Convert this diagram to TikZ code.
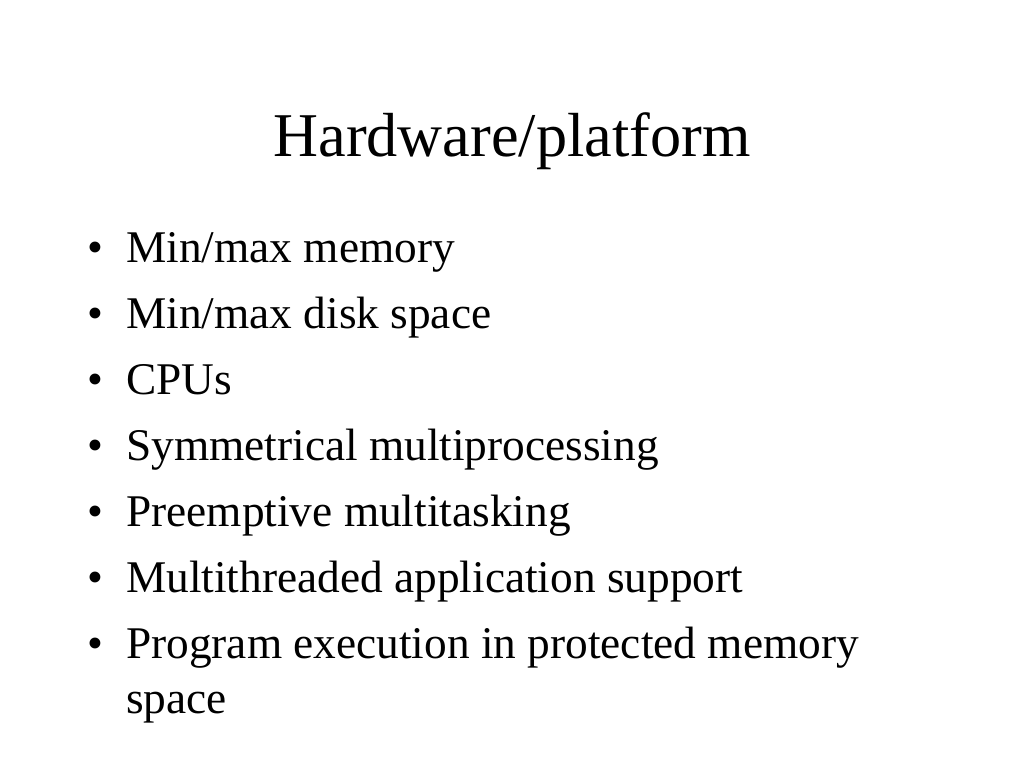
\documentclass[tikz,border=0pt]{standalone}
\usepackage{fontspec}
\setmainfont{Liberation Serif}
\begin{document}
\begin{tikzpicture}[x=1bp,y=-1bp,
  titletext/.style={anchor=base,inner sep=0pt,font=\fontsize{62.5}{70}\selectfont},
  bullettext/.style={anchor=base west,inner sep=0pt,font=\fontsize{45.5}{55}\selectfont},
  bulletmark/.style={anchor=base west,inner sep=0pt,font=\fontsize{45.5}{55}\selectfont}]
\useasboundingbox[fill=white] (0,0) rectangle (1024,768);
\node[titletext] (title) at (512,156) {Hardware/platform};
\foreach \i/\t in {0/Min\slash max memory,1/Min\slash max disk space,2/CPUs,3/Symmetrical multiprocessing,4/Preemptive multitasking,5/Multithreaded application support,6/Program execution in protected memory}{
  \node[bulletmark] (b\i) at (87,{262+66*\i}) {•};
  \node[bullettext] (t\i) at (126,{262+66*\i}) {\t};
}
\node[bullettext] (t7) at (126,{262+66*6+55}) {space};
\end{tikzpicture}
\end{document}
